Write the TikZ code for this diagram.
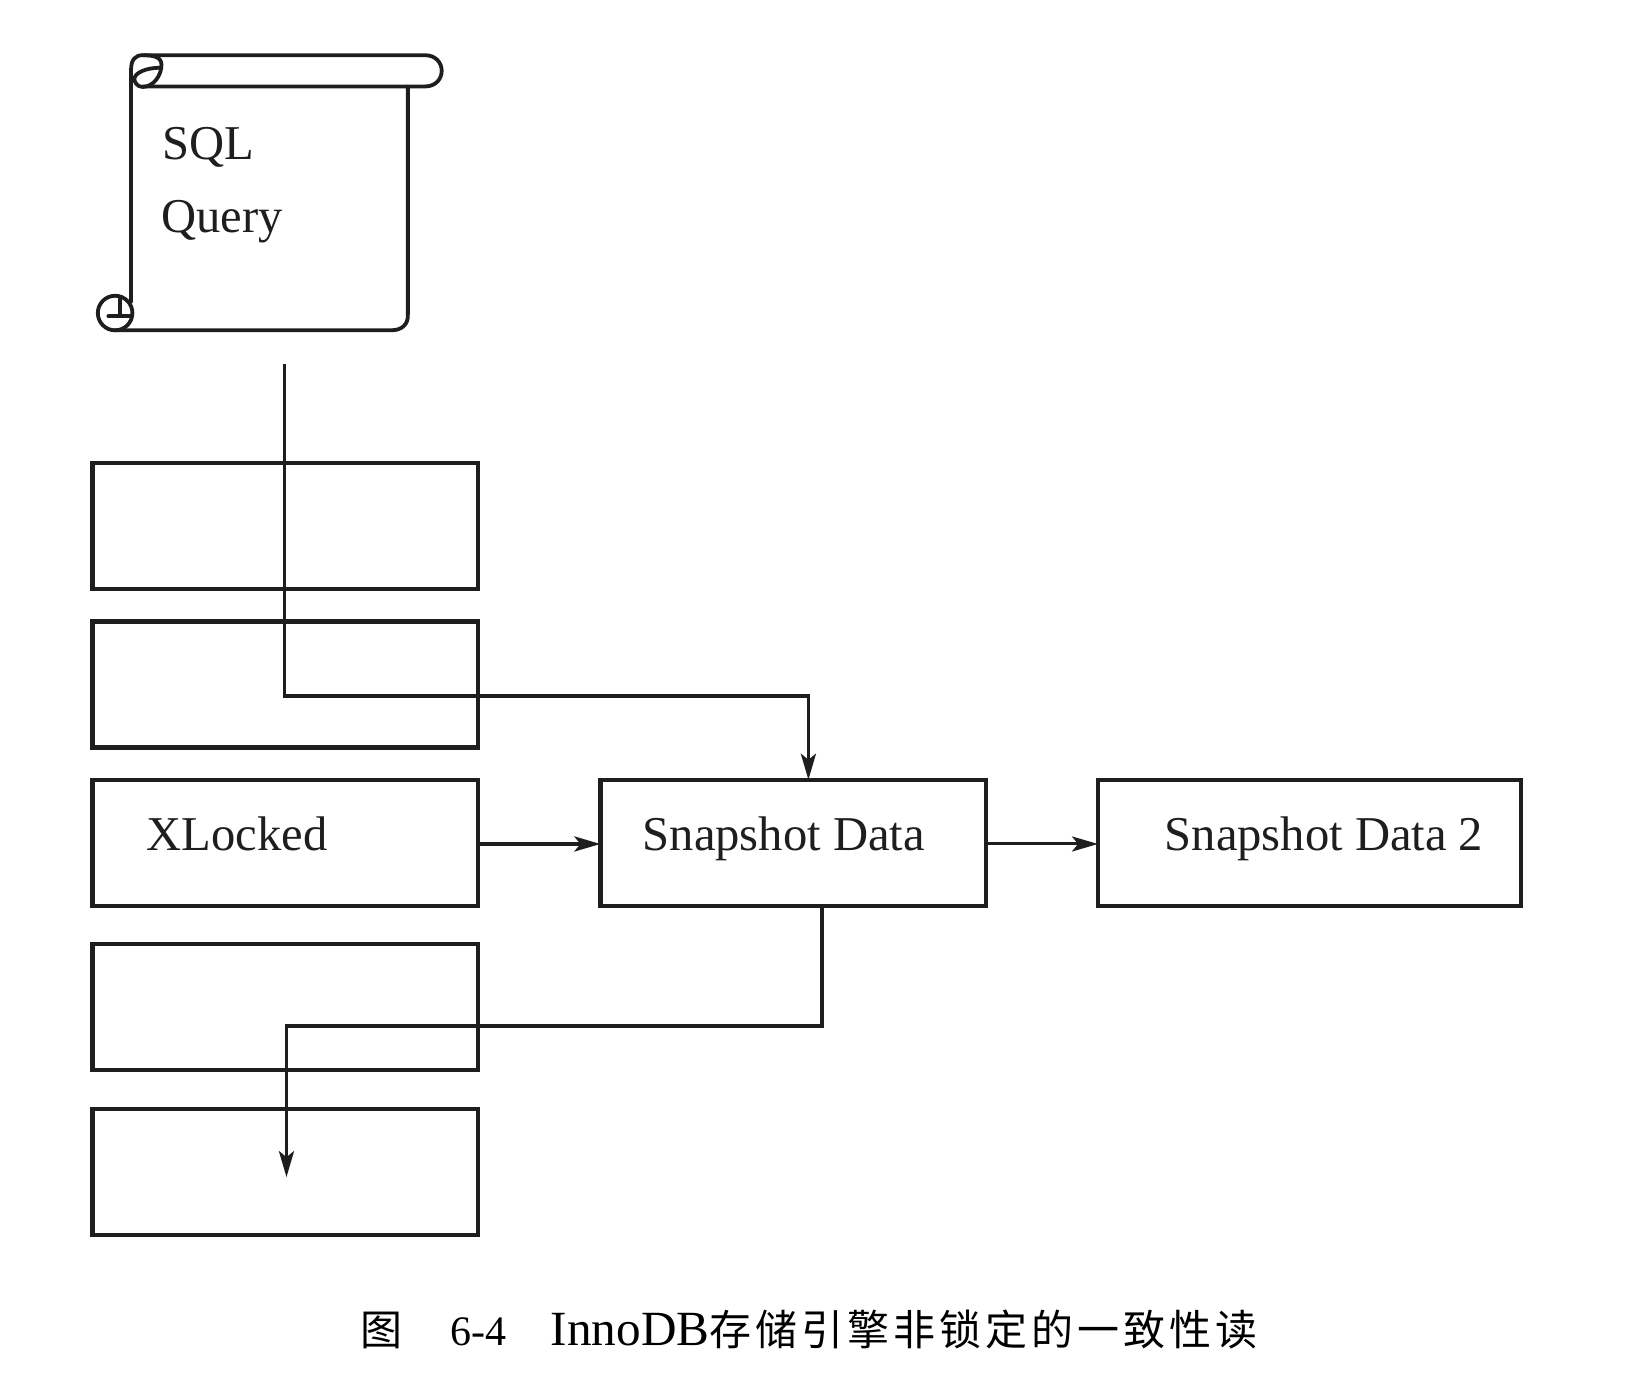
\documentclass[tikz,border=0pt]{standalone}
\usepackage{fontspec}
\setmainfont{Liberation Serif}
\newfontfamily\cjk[LetterSpace=9.5]{Noto Sans CJK SC}
\usetikzlibrary{arrows.meta,calc}
\definecolor{ink}{HTML}{1E1E1E}
\tikzset{
  box/.style={draw=ink,line width=2.1pt,minimum width=192.9pt,minimum height=63pt,inner sep=0pt,outer sep=0pt},
  lab/.style={anchor=base west,inner sep=0pt,outer sep=0pt,text=ink,font=\fontsize{24.3}{28}\selectfont},
  conn/.style={draw=ink,line width=1.9pt,-{Stealth[length=13pt,width=7.5pt,inset=3pt]}},
  scrollline/.style={draw=ink,line width=1.9pt,line cap=round,line join=round},
}
\begin{document}
\begin{tikzpicture}[x=0.5209pt,y=-0.5209pt]
\useasboundingbox (0,0) rectangle (1568.5,1330.4);
% scroll
\draw[scrollline] (125.8,290) -- (125.8,67) .. controls (125.8,57) and (130,53) .. (137,53)
  -- (408,53) .. controls (418,53) and (424,60) .. (424,68) .. controls (424,76) and (418,83) .. (408,83) -- (137,83);
\draw[scrollline] (137,53) .. controls (148,53) and (155,55) .. (155,62) .. controls (155,72) and (148,83) .. (137,83.5)
  .. controls (131,83.5) and (129,78) .. (129,76) .. controls (129,70) and (140,65) .. (154,65);
\draw[scrollline] (391.5,83) -- (391.5,302) .. controls (392,311) and (386,317) .. (376,317) -- (110,317);
\draw[scrollline] (110.5,300.5) circle [radius=16.6];
\draw[scrollline] (104,303.5) -- (126,303.5) (115,287) -- (115,303.5);
\node[lab] (sql) at (156,153) {SQL};
\node[lab] (query) at (155,223) {Query};
% boxes
\node[box] (b1) at (274,505) {};
\node[box] (b2) at (274,657) {};
\node[box] (b3) at (274,809) {};
\node[box] (b4) at (274,967) {};
\node[box] (b5) at (274,1125) {};
\node[box] (snap) at (761.5,809) {};
\node[box,minimum width=211.5pt] (snaptwo) at (1257,809) {};
\node[lab] (xl) at (141,816) {XLocked};
\node[lab] (sd) at (617,816) {Snapshot Data};
\node[lab] (sdt) at (1118,816) {Snapshot Data 2};
% connectors
\coordinate (start) at (273,349);
\coordinate (bend) at (273,668);
\draw[conn] (start) -- (bend) -| ([xshift=7.55pt]snap.north);
\draw[conn] ([yshift=-0.6pt]b3.east) -- ([yshift=-0.6pt]snap.west);
\draw[conn,line width=1.5pt] ([yshift=-0.6pt]snap.east) -- ([yshift=-0.6pt]snaptwo.west);
\coordinate (endpt) at (275,1130);
\draw[conn] ([xshift=14.3pt]snap.south) |- (275,985) -- (endpt);
% caption
\node[anchor=west,inner sep=0pt,text=black,font=\fontsize{24.6}{28}\selectfont] (cap) at (346,1276)
 {{\cjk\fontsize{21}{28}\selectfont 图}\hspace{24pt}{\fontsize{21}{28}\selectfont 6-4}\hspace{22pt}InnoDB{\cjk\fontsize{21}{28}\selectfont 存储引擎非锁定的一致性读}};
\end{tikzpicture}
\end{document}
